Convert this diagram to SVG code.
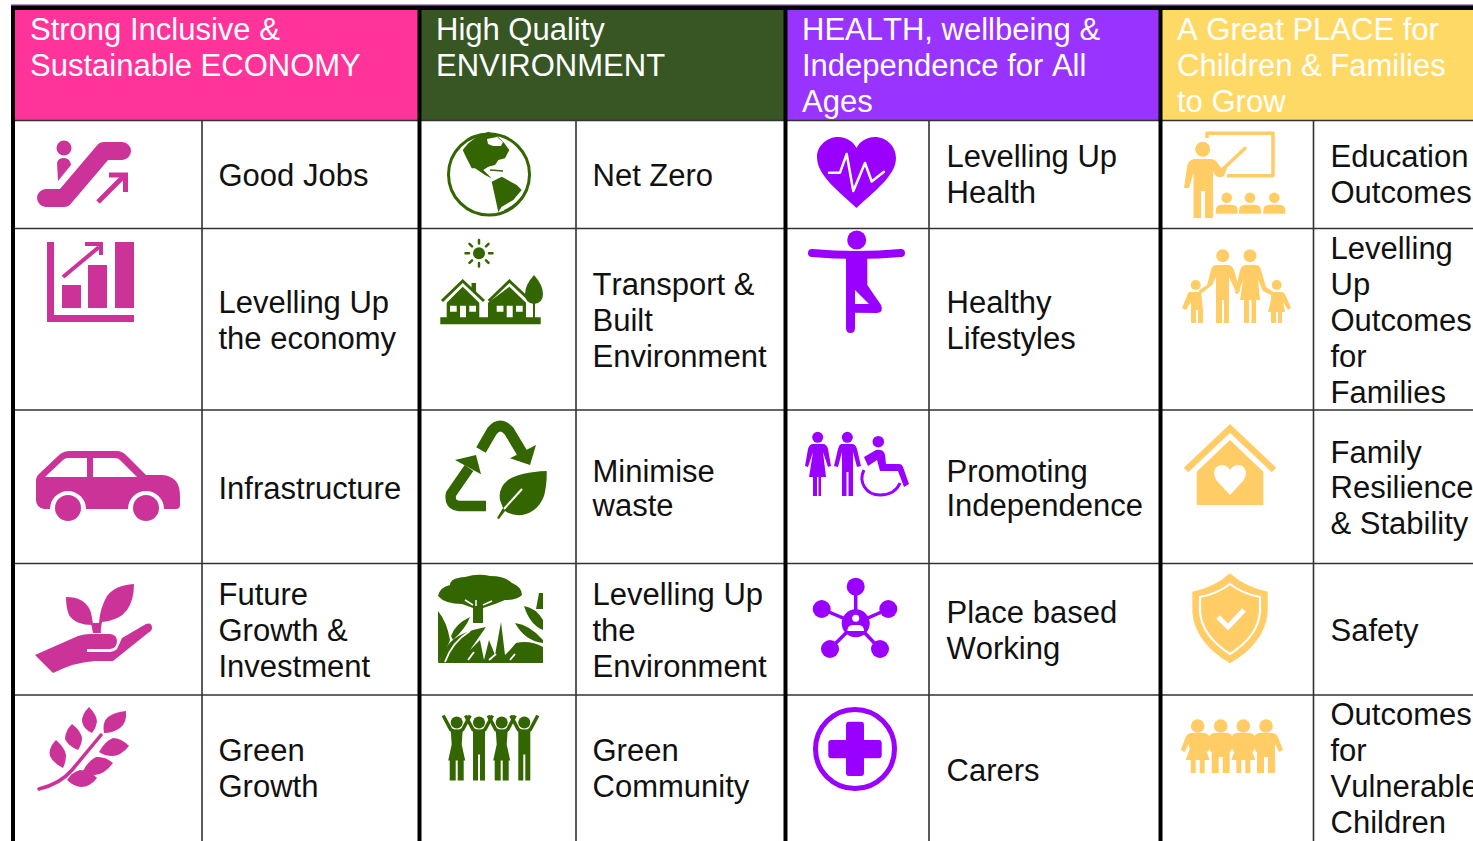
<svg xmlns="http://www.w3.org/2000/svg" xmlns:xlink="http://www.w3.org/1999/xlink" width="1473" height="841" viewBox="0 0 1473 841">
<style>
text{font-family:"Liberation Sans",Arial,sans-serif;font-size:31px;fill:#111;font-kerning:none}
.h{fill:#fff}
.thick{stroke:#000;stroke-width:4;fill:none}
.thin{stroke:#333;stroke-width:1.6;fill:none}
.p{fill:#CC3399}.ps{stroke:#CC3399;fill:none}
.g{fill:#336600}.gs{stroke:#336600;fill:none}
.v{fill:#9900FF}.vs{stroke:#9900FF;fill:none}
.y{fill:#FFCC66}.ys{stroke:#FFCC66;fill:none}
.w{fill:#fff}.ws{stroke:#fff;fill:none}
.rd{stroke-linecap:round;stroke-linejoin:round}
</style>
<defs>
<g id="gwoman"><circle cx="0" cy="-14" r="6"/><path d="M-13.500,-21 L-6,-7 L-3,-5 H3 L6,-7 L13.500,-21" stroke-width="3.500" fill="none" stroke="currentColor"/><path d="M-6,-7 H6 L5,8 L8.500,24 H-8.500 L-5,8 Z M-7,24 H-1 V44 H-7 Z M1,24 H7 V44 H1 Z"/></g>
<g id="gman"><circle cx="0" cy="-14" r="6"/><path d="M-13.500,-21 L-6,-7 L-3,-5 H3 L6,-7 L13.500,-21" stroke-width="3.500" fill="none" stroke="currentColor"/><path d="M-6,-7 H6 V44 H1 V18 H-1 V44 H-6 Z"/></g>
<g id="kgirl"><circle cx="0" cy="-11" r="6.800"/><path d="M-6,-4 H6 Q10,-4 12,0 L17,13 L13,15 L9,7 L8,12 L12,23 H7 V36 H2 V23 H-2 V36 H-7 V23 H-12 L-8,12 L-9,7 L-13,15 L-17,13 L-12,0 Q-10,-4 -6,-4 Z"/></g>
<g id="kboy"><circle cx="0" cy="-11" r="6.800"/><path d="M-6,-4 H6 Q10,-4 12,0 L17,13 L13,15 L9,7 V36 H2 V20 H-2 V36 H-9 V7 L-13,15 L-17,13 L-12,0 Q-10,-4 -6,-4 Z"/></g>
<g id="student"><circle cx="0" cy="0" r="5.300"/><path d="M-11,16 V13 Q-11,7 -5,7 H5 Q11,7 11,13 V16 Z"/></g>
</defs>
<rect width="1473" height="841" fill="#fff"/>

<g id="headers">
<rect x="11" y="4.500" width="1462" height="1.500" fill="#5B2C9F"/>
<rect x="11" y="6" width="1462" height="5" fill="#000"/>
<rect x="15" y="10" width="403" height="110" fill="#FF3399"/>
<rect x="421" y="10" width="363" height="110" fill="#375623"/>
<rect x="787" y="10" width="372" height="110" fill="#9933FF"/>
<rect x="1162" y="10" width="311" height="110" fill="#FFD966"/>
<text class="h"><tspan x="30" y="40">Strong Inclusive &amp;</tspan><tspan x="30" y="76">Sustainable ECONOMY</tspan></text>
<text class="h"><tspan x="436" y="40">High Quality</tspan><tspan x="436" y="76">ENVIRONMENT</tspan></text>
<text class="h"><tspan x="802" y="40">HEALTH, wellbeing &amp;</tspan><tspan x="802" y="76">Independence for All</tspan><tspan x="802" y="112">Ages</tspan></text>
<text class="h"><tspan x="1177" y="40">A Great PLACE for</tspan><tspan x="1177" y="76">Children &amp; Families</tspan><tspan x="1177" y="112">to Grow</tspan></text>
</g>

<g id="grid">
<path class="thin" d="M15,120.500H1473M15,228.500H1473M15,410H1473M15,563.500H1473M15,695H1473"/>
<path class="thin" d="M202,120V841M576,120V841M929,120V841M1313.500,120V841"/>
<path class="thick" d="M13,8V841M419.500,8V841M785.500,8V841M1160.500,8V841"/>
</g>

<g id="col-economy">
<g id="icon-goodjobs">
<circle class="p" cx="64" cy="148" r="7.500"/>
<path class="p" d="M57,163 Q58,158 64,158 Q70,158 71,165 L58,181 Z"/>
<path class="ps rd" stroke-width="18" d="M46,198 H64 L104,151 H122"/>
<path class="ps" stroke-width="5" d="M98,202 L123,177"/>
<path class="ps" stroke-width="5" d="M109,175 H125.500 V192"/>
</g>
<g id="icon-chart">
<path class="p" d="M47,242 H54 V315 H134 V322 H47 Z"/>
<path class="p" d="M62,285 H81 V308 H62 Z M88,265 H107 V308 H88 Z M115,242 H134 V308 H115 Z"/>
<path class="ps" stroke-width="4" d="M63,277 L99,247"/>
<path class="ps" stroke-width="4" d="M85,244 H101 V255"/>
</g>
<g id="icon-car">
<path class="p" d="M36,481 Q36,476 40,473 L58,456 Q63,451 70,451 H117 Q122,451 127,456 L146,475 H162 Q180,476 180,496 V505 Q180,509 176,509 H164 A18,18 0 0 0 128,509 H86 A18,18 0 0 0 50,509 H44 Q36,507 36,500 Z"/>
<path class="w" d="M45,477 L63,460 Q65,458 68,458 H87 V477 Z M93,458 H115 Q118,458 120,460 L137,477 H93 Z"/>
<circle class="p" cx="68" cy="508" r="13"/><circle class="p" cx="146" cy="508" r="13"/>
</g>
<g id="icon-plant">
<path class="p" d="M35,655 L78,636 Q84,634 90,634 H110 Q117,635 117,641 Q117,648 110,649 H87 V652 H110 Q114,652 117,649 L122,638 L146,624 Q152,622 152,628 Q152,631 148,633 L113,661 H95 Q75,662 53,673 Z"/>
<path class="p" d="M66,597 Q84,597 90,610 Q92,615 93,625 Q75,625 69,615 Q66,608 66,597 Z"/>
<path class="p" d="M134,584 Q115,585 107,596 Q100,608 99,623 L95,631 L100,633 L102,622 Q120,620 127,610 Q134,600 134,584 Z"/>
<path class="p" d="M91,623 H100 L101,633 H93 Z"/>
</g>
<g id="icon-growth">
<path class="ps rd" stroke-width="3.500" d="M39,789 Q60,784 72,770 L101,735"/>
<path class="p" d="M89,707 Q97,715 97,722 Q96,728 92,733 Q83,729 82,721 Q82,714 89,707 Z"/>
<path class="p" d="M126,711 Q127,723 120,728 Q113,733 104,733 Q102,722 108,717 Q115,712 126,711 Z"/>
<path class="p" d="M72,724 Q81,731 82,738 Q82,744 78,750 Q68,746 65,739 Q65,731 72,724 Z"/>
<path class="p" d="M56,740 Q65,748 66,755 Q66,762 63,768 Q53,763 50,756 Q48,748 56,740 Z"/>
<path class="p" d="M129,746 Q121,756 112,756 Q105,756 99,752 Q105,741 113,738 Q121,738 129,746 Z"/>
<path class="p" d="M113,763 Q105,774 95,775 Q88,775 83,771 Q88,761 96,757 Q105,756 113,763 Z"/>
<path class="p" d="M97,778 Q90,787 81,787 Q73,786 67,780 Q72,772 80,770 Q89,770 97,778 Z"/>
</g>
<text><tspan x="218.500" y="186">Good Jobs</tspan></text>
<text><tspan x="218.500" y="313">Levelling Up</tspan><tspan x="218.500" y="349">the economy</tspan></text>
<text><tspan x="218.500" y="499">Infrastructure</tspan></text>
<text><tspan x="218.500" y="605">Future</tspan><tspan x="218.500" y="641">Growth &amp;</tspan><tspan x="218.500" y="677">Investment</tspan></text>
<text><tspan x="218.500" y="761">Green</tspan><tspan x="218.500" y="797">Growth</tspan></text>
</g>

<g id="col-environment">
<g id="icon-globe">
<circle class="gs" cx="489" cy="174.500" r="40.500" stroke-width="3"/>
<path class="g" d="M462.700,150 L468.300,143.300 L476.700,136.700 L488.300,131.700 Q500,135 509.300,150 L505,158.300 L498.300,160 L495,165 L488.300,166.700 L483.300,170 L491.700,178.300 L495,180 L485,175 L475,168.300 L471.700,168.300 L465,155 Z"/>
<path class="w" d="M487,139 L497,137 L503,142 L501,146 L493,146 L488,144 Z"/>
<path class="gs" stroke-width="1.500" d="M490,170 L503,171"/>
<path class="g" d="M491.700,181.700 L501.700,176.700 L516.700,185 L521.700,190 L513.300,200 L501.700,206.700 L498.300,212 L495,196.700 Z"/>
<path class="g" d="M504,210 Q515,205 522,196 L527,190 L522,200 Q514,208 504,212 Z"/>
</g>
<g id="icon-houses">
<circle class="g" cx="479" cy="253.300" r="6"/>
<path class="gs" stroke-width="2.500" stroke-linecap="round" d="M479,240V243.500M479,263V266.500M465.500,253.300H469M489,253.300H492.500M469.500,243.800L472,246.300M488.500,243.800L486,246.300M469.500,262.800L472,260.300M488.500,262.800L486,260.300"/>
<path class="g" d="M440.300,317.300H540.700V324.300H440.300Z"/>
<path class="gs" stroke-width="3" d="M442,301L462.700,281L484,301M488.700,301L509.400,281L530.700,301"/>
<path class="g" d="M471.500,283H476V294L471.500,290Z"/>
<path class="g" d="M462.700,286.700L479.300,302.700V318H488V302.700L509.400,286.700L526,302.700V318H446.700V302.700Z"/>
<path class="w" d="M450,305.700H456.700V311.700H450Z M460,305.700H466V317.300H460Z M469.300,305.700H476V311.700H469.300Z M496.700,305.700H503.400V311.700H496.700Z M506.700,305.700H512.700V317.300H506.700Z M516,305.700H522.700V311.700H516Z"/>
<path class="w" d="M480,302H488V317H480Z"/>
<path class="g" d="M534,275 Q543,285 543,294 Q543,303 534,304 Q525,303 525,294 Q525,285 534,275 Z"/>
<path class="gs" stroke-width="2" d="M534,300V318"/>
</g>
<g id="icon-recycle">
<path class="gs" stroke-width="11" stroke-linejoin="round" d="M481,450 L492,431 Q500,421 509,431 L524,456"/>
<path class="g" d="M536,445L530,465L510,458.300Z"/>
<path class="gs" stroke-width="10.500" stroke-linejoin="round" d="M486,506 H459 Q449,505 451,494 L469,468"/>
<path class="g" d="M455,460L476,455L481,474.300Z"/>
<path class="g" d="M546.700,471 Q520,472 508,480 Q498,488 500,500 L503,508 L497,518 L499,519 L505,511 Q512,516 522,515 Q538,512 544,496 Q547,485 546.700,471 Z"/>
<path class="ws" stroke-width="2" d="M522,489L504,509"/>
</g>
<g id="icon-forest">
<path class="g" d="M438,596 Q440,587 450,585 Q450,578 465,577 Q478,573 490,576 Q505,576 512,583 Q522,587 522,595 Q517,600 505,600 L495,604 L483,608 V623 H473 V608 L462,604 Q445,604 438,596 Z"/>
<path class="g" d="M438,611 Q447,622 450,640 L446,650 L438,663 Z"/>
<path class="g" d="M451,636 Q455,624 470,617 Q466,628 453,640 Z"/>
<path class="g" d="M438,663 L448,645 Q458,632 486,627 L470,650 L480,640 L484,660 L489,640 L495,655 L501,622 L505,655 L510,650 L516,643 Q530,640 543,647 V663 Z"/>
<path class="g" d="M515,623 Q530,625 543,640 V643 Q525,641 515,623 Z M524,606 Q536,608 543,620 V630 Q530,625 524,606 Z M539,593 L543,593 V609 H536 Z"/>
<path class="ws" stroke-width="1.800" d="M445,662 Q452,642 470,631 M468,660 L474,652 M489,660 L496,654 M510,660 L515,654"/>
<path class="ws" stroke-width="1.500" d="M465,600 L473,605 M483,605 L492,601 M476,600 V606"/>
</g>
<g id="icon-community" class="g" color="#336600">
<use xlink:href="#gwoman" x="456.700" y="736.500"/>
<use xlink:href="#gman" x="479" y="736.500"/>
<use xlink:href="#gwoman" x="501.700" y="736.500"/>
<use xlink:href="#gman" x="524.300" y="736.500"/>
</g>
<text><tspan x="592.500" y="186">Net Zero</tspan></text>
<text><tspan x="592.500" y="295">Transport &amp;</tspan><tspan x="592.500" y="331">Built</tspan><tspan x="592.500" y="367">Environment</tspan></text>
<text><tspan x="592.500" y="482">Minimise</tspan><tspan x="592.500" y="516">waste</tspan></text>
<text><tspan x="592.500" y="605">Levelling Up</tspan><tspan x="592.500" y="641">the</tspan><tspan x="592.500" y="677">Environment</tspan></text>
<text><tspan x="592.500" y="761">Green</tspan><tspan x="592.500" y="797">Community</tspan></text>
</g>

<g id="col-health">
<g id="icon-heart">
<path class="v" d="M856.500,208 C840,192 817,176 817,157 C817,145 828,137 838,137 C846,137 853,141 856.500,148 C860,141 867,137 875,137 C886,137 896,146 896,158 C896,176 873,192 856.500,208 Z"/>
<path class="ws" stroke-width="2.500" stroke-linejoin="round" stroke-linecap="round" d="M829,172.700H840L846.700,154L853.300,191L865,163L871.700,181.500L884,171.700"/>
</g>
<g id="icon-yoga">
<circle class="v" cx="856.700" cy="240" r="9.500"/>
<path class="vs rd" stroke-width="8" d="M812,253 Q856,257 901,253"/>
<path class="v" d="M846,254H867.300V285L881,305Q884,312 877,313L855,312.700V328Q855,333 850.500,333Q846,333 846,328Z"/>
<path class="w" d="M855,290V304H869Z"/>
</g>
<g id="icon-independence">
<circle class="v" cx="817.700" cy="437.300" r="5.500"/>
<path class="v" d="M812,444H824Q827,445 828,449L831,466L828,467L823,452L826,477H821V496H818.500V477H817V496H813V477H809L813,452L808,467L805,466L808,449Q809,445 812,444Z"/>
<circle class="v" cx="847.300" cy="437.300" r="5.500"/>
<path class="v" d="M841,444H853Q856,445 857,449L861,466L857,467L853,452V496H848.500V472H846.500V496H842V452L838,467L834,466L838,449Q839,445 841,444Z"/>
<circle class="v" cx="878.300" cy="441.700" r="5.800"/>
<path class="v" d="M864,457L876,450Q884,449 885,455L886,464H899Q902,464 903,467L909,484L904,487L898,471H880L877,460L868,466Z"/>
<path class="vs" stroke-width="3" d="M864,470C858,482 866,495 880,495C890,495 897,490 900,483"/>
</g>
<g id="icon-network">
<path class="vs" stroke-width="3.500" d="M855.700,586.700V623.300M821.700,609L855.700,623.300L888.300,609M830,649L855.700,623.300L880,649"/>
<circle class="v" cx="855.700" cy="623.300" r="14"/>
<circle class="v" cx="855.700" cy="586.700" r="9"/><circle class="v" cx="821.700" cy="609" r="9"/><circle class="v" cx="888.300" cy="609" r="9"/><circle class="v" cx="830" cy="649" r="9"/><circle class="v" cx="880" cy="649" r="9"/>
<circle class="w" cx="855.700" cy="618.300" r="3.500"/>
<path class="w" d="M847.300,631Q847.500,625 853,625H858.500Q864,625 864,631Z"/>
</g>
<g id="icon-carers">
<circle class="vs" cx="855" cy="749" r="39.500" stroke-width="5"/>
<path class="v" d="M849,721.700H861Q864,721.700 864,725V740H878.700Q881.700,740 881.700,743V755.300Q881.700,758.300 878.700,758.300H864V773Q864,776 861,776H849Q846,776 846,773V758.300H831.300Q828.300,758.300 828.300,755.300V743Q828.300,740 831.300,740H846V725Q846,721.700 849,721.700Z"/>
</g>
<text><tspan x="946.500" y="167">Levelling Up</tspan><tspan x="946.500" y="203">Health</tspan></text>
<text><tspan x="946.500" y="313">Healthy</tspan><tspan x="946.500" y="349">Lifestyles</tspan></text>
<text><tspan x="946.500" y="482">Promoting</tspan><tspan x="946.500" y="516">Independence</tspan></text>
<text><tspan x="946.500" y="623">Place based</tspan><tspan x="946.500" y="659">Working</tspan></text>
<text><tspan x="946.500" y="781">Carers</tspan></text>
</g>

<g id="col-place">
<g id="icon-teacher">
<path class="ys" stroke-width="3.500" stroke-linejoin="round" d="M1207,138V133.300H1273V175.700H1227"/>
<path class="ys" stroke-width="3.500" stroke-linecap="round" d="M1245,148.300L1222,170"/>
<circle class="y" cx="1202.700" cy="149.300" r="7.500"/>
<path class="y" d="M1194,159H1211Q1216,159 1219,165L1222,169L1229,163L1224,176Q1219,179 1215,175L1213,171V218H1205V191H1201V218H1193.500V173L1189,188H1184L1187,167Q1188,160 1194,159Z"/>
<use xlink:href="#student" x="1226.700" y="197.700" class="y"/><use xlink:href="#student" x="1250" y="197.700" class="y"/><use xlink:href="#student" x="1274.300" y="197.700" class="y"/>
</g>
<g id="icon-family">
<circle class="y" cx="1222.700" cy="255.700" r="6.500"/><circle class="y" cx="1250" cy="255.700" r="6.500"/>
<circle class="y" cx="1195.700" cy="285" r="5"/><circle class="y" cx="1276.700" cy="285" r="5"/>
<path class="y" d="M1246,265H1256Q1260,265 1261,270L1266,287L1275,293L1273,296L1263,291L1258,280L1260,300H1256V323H1251.500V300H1249V323H1244V300H1240L1243,280L1238,294L1235,293L1240,270Q1242,265 1246,265Z"/>
<path class="y" d="M1217,265H1228Q1232,265 1234,270L1240,291L1237,294L1229,277V323H1224V300H1222V323H1216V277L1212,285L1202,293L1198,291L1207,285L1211,270Q1212,265 1217,265Z"/>
<path class="y" d="M1190,292H1201L1203,310V323H1198V310H1196V323H1191V302L1186,310L1182,308L1187,296Q1188,292 1190,292Z"/>
<path class="y" d="M1271,292H1282Q1285,293 1286,296L1291,308L1288,310L1283,302L1285,312H1282V323H1278V312H1276V323H1271V312H1268L1271,300Z"/>
</g>
<g id="icon-home">
<path class="ys" stroke-width="6.500" d="M1186,470L1230,428.500L1274,470"/>
<path class="y" d="M1230,440L1263.300,471.700V505H1196.700V471.700Z"/>
<path class="w" d="M1230,495L1217,481Q1214,476 1214,473Q1215,465 1222,465Q1227,465 1230,470Q1233,465 1238,465Q1245,465 1246,473Q1246,476 1243,481Z"/>
</g>
<g id="icon-shield">
<path class="y" d="M1230,573.300Q1245,587 1267.700,591.700V612Q1265,643 1230,663.300Q1195,643 1192.300,612V591.700Q1215,587 1230,573.300Z"/>
<path class="ws" stroke-width="2.200" d="M1230,584Q1243,594 1260,597V612Q1258,636 1230,654Q1202,636 1200,612V597Q1217,594 1230,584Z"/>
<path class="ws" stroke-width="5" d="M1218,617L1228,627L1244,610"/>
</g>
<g id="icon-children" class="y">
<use xlink:href="#kgirl" x="1197.700" y="737"/><use xlink:href="#kboy" x="1220.700" y="737"/><use xlink:href="#kgirl" x="1243.300" y="737"/><use xlink:href="#kboy" x="1266" y="737"/>
</g>
<text><tspan x="1330.500" y="167">Education</tspan><tspan x="1330.500" y="203">Outcomes</tspan></text>
<text><tspan x="1330.500" y="259">Levelling</tspan><tspan x="1330.500" y="295">Up</tspan><tspan x="1330.500" y="331">Outcomes</tspan><tspan x="1330.500" y="367">for</tspan><tspan x="1330.500" y="403">Families</tspan></text>
<text><tspan x="1330.500" y="463">Family</tspan><tspan x="1330.500" y="498">Resilience</tspan><tspan x="1330.500" y="534">&amp; Stability</tspan></text>
<text><tspan x="1330.500" y="641">Safety</tspan></text>
<text><tspan x="1330.500" y="725">Outcomes</tspan><tspan x="1330.500" y="761">for</tspan><tspan x="1330.500" y="797">Vulnerable</tspan><tspan x="1330.500" y="833">Children</tspan></text>
</g>
</svg>
